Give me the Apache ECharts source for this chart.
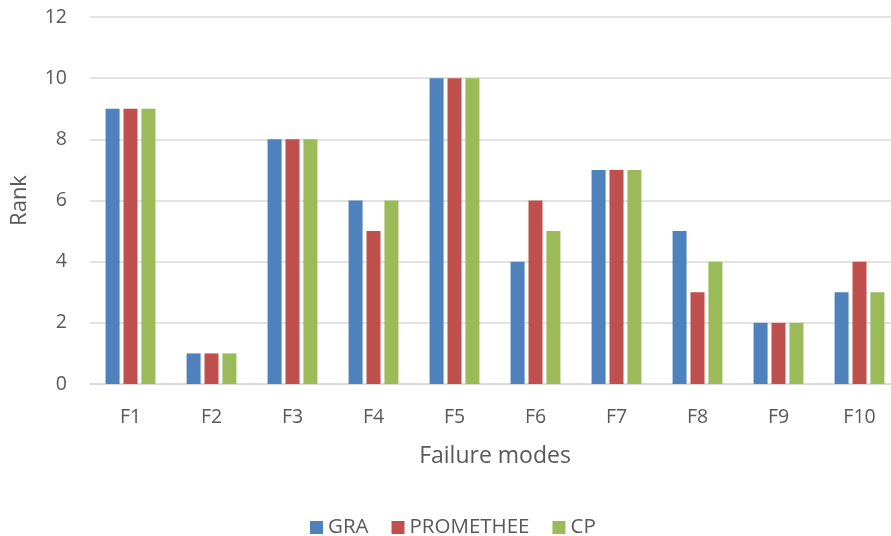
<!DOCTYPE html>
<html>
<head>
<meta charset="utf-8">
<script src="https://cdn.jsdelivr.net/npm/echarts@6/dist/echarts.min.js"></script>
<style>html,body{margin:0;padding:0;background:#fff}#c{width:891px;height:536px}</style>
</head>
<body>
<div id="c"></div>
<script>
const categories = ['F1','F2','F3','F4','F5','F6','F7','F8','F9','F10'];
const gra = [9,1,8,6,10,4,7,5,2,3];
const promethee = [9,1,8,5,10,6,7,3,2,4];
const cp = [9,1,8,6,10,5,7,4,2,3];
const yTicks = {min:0, max:12, interval:2};

const font = '"Open Sans", "Noto Sans", sans-serif';
const txt = '#595959';
const chart = echarts.init(document.getElementById('c'));
chart.setOption({
  animation:false,
  textStyle:{fontFamily:font},
  color:['#4f81bd','#c0504d','#9bbb59'],
  grid:{left:90, top:17, width:810, height:367, containLabel:false, outerBoundsMode:'none'},
  legend:{
    top:512, left:305, itemWidth:13, itemHeight:13, itemGap:23, padding:5,
    icon:'rect',
    textStyle:{fontSize:20.5, color:txt, fontFamily:font},
    data:['GRA','PROMETHEE','CP']
  },
  xAxis:{
    type:'category', data:categories,
    name:'Failure modes', nameLocation:'middle', nameGap:61,
    nameTextStyle:{fontSize:23, color:txt, fontFamily:font},
    axisLine:{lineStyle:{color:'#d9d9d9', width:1.5}},
    axisTick:{show:false},
    axisLabel:{fontSize:19.5, color:txt, margin:23}
  },
  yAxis:{
    type:'value', min:yTicks.min, max:yTicks.max, interval:yTicks.interval,
    name:'Rank', nameLocation:'middle', nameGap:59, nameRotate:90,
    nameTextStyle:{fontSize:22, color:txt, fontFamily:font},
    axisLine:{show:false}, axisTick:{show:false},
    axisLabel:{fontSize:19.5, color:txt, margin:23},
    splitLine:{lineStyle:{color:'#d9d9d9', width:1.5}}
  },
  series:[
    {name:'GRA', type:'bar', data:gra, barWidth:14, barGap:'28%'},
    {name:'PROMETHEE', type:'bar', data:promethee, barWidth:14, barGap:'28%'},
    {name:'CP', type:'bar', data:cp, barWidth:14, barGap:'28%'}
  ]
});
</script>
</body>
</html>
